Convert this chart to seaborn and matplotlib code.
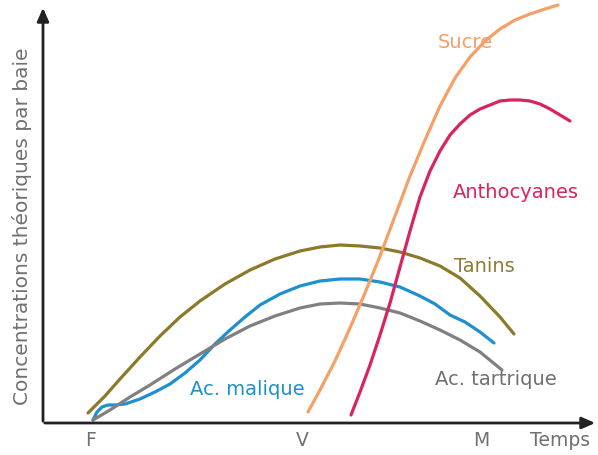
import pandas as pd
import matplotlib.pyplot as plt
import seaborn as sns

# Estimated curve values (x = time, y = concentration)
tanins_x = [88, 105, 120, 140, 160, 180, 200, 225, 250, 275, 300, 320, 340, 360, 380, 400, 420, 440, 460, 480, 500, 514]
tanins_y = [10, 27, 44, 66, 87, 106, 122, 139, 153, 164, 172, 176, 178, 177, 175, 171, 165, 157, 145, 127, 106, 89]

malique_x = [93, 97, 102, 108, 115, 125, 140, 155, 170, 185, 200, 215, 230, 245, 260, 280, 300, 320, 340, 360, 380, 400, 420, 435, 450, 465, 480, 494]
malique_y = [3, 11, 16, 18, 18, 19, 24, 31, 39, 50, 63, 79, 93, 106, 118, 129, 137, 142, 144, 144, 141, 136, 127, 119, 108, 101, 91, 80]

tartrique_x = [93, 110, 130, 150, 175, 200, 225, 250, 275, 300, 320, 340, 360, 380, 400, 420, 440, 460, 480, 502]
tartrique_y = [3, 13, 26, 38, 54, 69, 84, 97, 107, 115, 119, 120, 119, 115, 110, 102, 93, 83, 71, 53]

sucre_x = [308, 320, 335, 350, 365, 380, 395, 410, 425, 440, 455, 470, 485, 500, 515, 530, 545, 558]
sucre_y = [11, 33, 62, 95, 130, 167, 207, 247, 283, 317, 345, 366, 382, 394, 403, 409, 414, 418]

antho_x = [351, 360, 370, 380, 390, 400, 410, 420, 430, 440, 450, 460, 470, 480, 490, 500, 510, 520, 530, 540, 550, 560, 570]
antho_y = [8, 31, 58, 88, 120, 156, 192, 226, 252, 272, 288, 299, 308, 314, 318, 322, 323, 323, 322, 319, 314, 308, 302]

x_ticks = [91, 302, 481]
x_tick_labels = ['F', 'V', 'M']

series = [
    ('Tanins', tanins_x, tanins_y, '#8b7a2a'),
    ('Ac. malique', malique_x, malique_y, '#1e8fcf'),
    ('Ac. tartrique', tartrique_x, tartrique_y, '#808080'),
    ('Sucre', sucre_x, sucre_y, '#f4a067'),
    ('Anthocyanes', antho_x, antho_y, '#d9245e'),
]

labels = {
    'Sucre': (465, 382, '#f4a067'),
    'Anthocyanes': (516, 232, '#d9245e'),
    'Tanins': (484, 158, '#8e7c34'),
    'Ac. malique': (247, 34, '#1e8fcf'),
    'Ac. tartrique': (496, 44, '#707070'),
}

sns.set_style('white')
plt.rcParams['font.family'] = ['DejaVu Sans']

fig = plt.figure(figsize=(5.98, 4.56), dpi=100)
ax = fig.add_axes([0, 0, 1, 1])

for name, xs, ys, col in series:
    df = pd.DataFrame({'x': xs, 'y': ys})
    sns.lineplot(data=df, x='x', y='y', ax=ax, color=col, linewidth=2.3,
                 sort=False, solid_capstyle='round', solid_joinstyle='round')

for name, (lx, ly, col) in labels.items():
    ax.text(lx, ly, name, color=col, fontsize=14, ha='center', va='center')

# axes with arrow heads
ax.annotate('', xy=(598, 0), xytext=(42, 0),
            arrowprops=dict(arrowstyle='-|>,head_length=0.8,head_width=0.35', color='#222222', lw=2))
ax.annotate('', xy=(43, 418), xytext=(43, -1),
            arrowprops=dict(arrowstyle='-|>,head_length=0.8,head_width=0.35', color='#222222', lw=2))

for tx, tl in zip(x_ticks, x_tick_labels):
    ax.text(tx, -17, tl, color='#707070', fontsize=13.5, ha='center', va='center')
ax.text(560, -17, 'Temps', color='#707070', fontsize=13.5, ha='center', va='center')
ax.text(22, 198, 'Concentrations théoriques par baie', color='#707070', fontsize=14.5,
        ha='center', va='center', rotation=90)

ax.set_xlim(0, 598)
ax.set_ylim(-32, 424)
ax.axis('off')

fig.savefig('out.png', dpi=100)
